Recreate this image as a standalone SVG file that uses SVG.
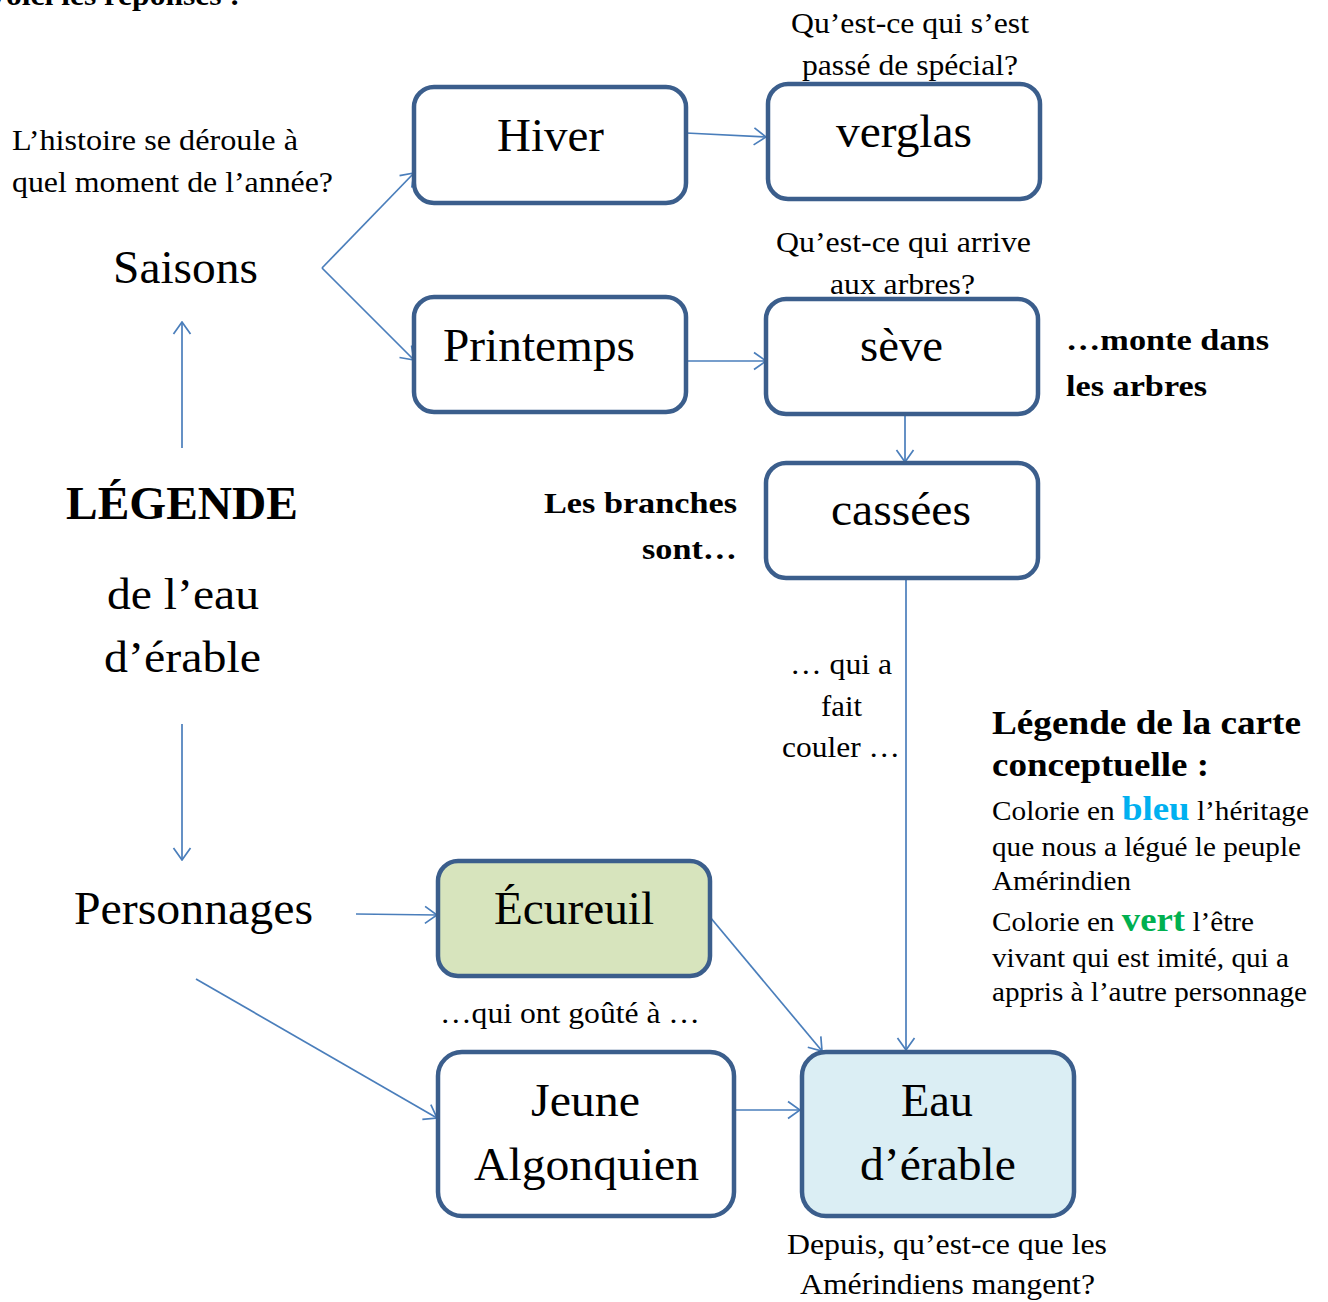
<svg xmlns="http://www.w3.org/2000/svg" width="1328" height="1302" viewBox="0 0 1328 1302">
<defs>
<marker id="arr" viewBox="0 0 14 20" refX="13" refY="10" markerWidth="14" markerHeight="20" markerUnits="userSpaceOnUse" orient="auto">
<path d="M1,1.5 L13,10 L1,18.5" fill="none" stroke="#4a7ebb" stroke-width="1.7"/>
</marker>
<style>
.box{fill:#fff;stroke:#3b5e8c;stroke-width:4.5}
.c{fill:none;stroke:#4a7ebb;stroke-width:1.7;marker-end:url(#arr)}
text{font-family:"Liberation Serif","Times New Roman",serif;fill:#000}
.big{font-size:46px}
.lbl{font-size:29px}
.b{font-weight:bold}
.leg{font-size:27px}
</style>
</defs>
<text x="-14" y="5" class="b" font-size="29" textLength="254" lengthAdjust="spacingAndGlyphs">Voici les réponses :</text>
<g id="connectors">
<line class="c" x1="686" y1="133" x2="766" y2="137"/>
<line class="c" x1="322" y1="268" x2="414" y2="173"/>
<line class="c" x1="322" y1="268" x2="414" y2="360"/>
<line class="c" x1="686" y1="361" x2="766" y2="361"/>
<line class="c" x1="905" y1="414" x2="905" y2="462"/>
<line class="c" x1="906" y1="578" x2="906" y2="1050"/>
<line class="c" x1="710" y1="917" x2="822" y2="1051"/>
<line class="c" x1="734" y1="1110" x2="800" y2="1110"/>
<line class="c" x1="356" y1="914" x2="437" y2="915"/>
<line class="c" x1="196" y1="979" x2="437" y2="1118"/>
<line class="c" x1="182" y1="448" x2="182" y2="322"/>
<line class="c" x1="182" y1="724" x2="182" y2="860"/>
</g>
<g id="hiver"><rect class="box" x="414" y="87" width="272" height="116" rx="20"/><text class="big" x="497" y="151" textLength="107" lengthAdjust="spacingAndGlyphs">Hiver</text></g>
<g id="verglas"><rect class="box" x="768" y="84" width="272" height="115" rx="20"/><text class="big" x="836" y="147" textLength="136" lengthAdjust="spacingAndGlyphs">verglas</text></g>
<g id="printemps"><rect class="box" x="414" y="297" width="272" height="115" rx="20"/><text class="big" x="443" y="361" textLength="192" lengthAdjust="spacingAndGlyphs">Printemps</text></g>
<g id="seve"><rect class="box" x="766" y="299" width="272" height="115" rx="20"/><text class="big" x="860" y="361" textLength="83" lengthAdjust="spacingAndGlyphs">sève</text></g>
<g id="cassees"><rect class="box" x="766" y="463" width="272" height="115" rx="20"/><text class="big" x="831" y="525" textLength="140" lengthAdjust="spacingAndGlyphs">cassées</text></g>
<g id="ecureuil"><rect class="box" x="438" y="861" width="272" height="115" rx="20" style="fill:#d7e4bd"/><text class="big" x="494" y="924" textLength="160" lengthAdjust="spacingAndGlyphs">Écureuil</text></g>
<g id="jeune"><rect class="box" x="438" y="1052" width="296" height="164" rx="24"/><text class="big" x="531" y="1116" textLength="109" lengthAdjust="spacingAndGlyphs">Jeune</text><text class="big" x="474" y="1180" textLength="225" lengthAdjust="spacingAndGlyphs">Algonquien</text></g>
<g id="eau"><rect class="box" x="802" y="1052" width="272" height="164" rx="24" style="fill:#dbeef4"/><text class="big" x="901" y="1116" textLength="72" lengthAdjust="spacingAndGlyphs">Eau</text><text class="big" x="860" y="1180" textLength="156" lengthAdjust="spacingAndGlyphs">d’érable</text></g>
<g id="saisons"><text class="big" x="113" y="283" textLength="145" lengthAdjust="spacingAndGlyphs">Saisons</text></g>
<g id="legende"><text class="big b" x="66" y="519" textLength="232" lengthAdjust="spacingAndGlyphs">LÉGENDE</text><text font-size="44" x="107" y="609" textLength="152" lengthAdjust="spacingAndGlyphs">de l’eau</text><text font-size="44" x="104" y="672" textLength="157" lengthAdjust="spacingAndGlyphs">d’érable</text></g>
<g id="personnages"><text class="big" x="74" y="924" textLength="239" lengthAdjust="spacingAndGlyphs">Personnages</text></g>
<g id="labels">
<text class="lbl" x="12" y="150" textLength="286" lengthAdjust="spacingAndGlyphs">L’histoire se déroule à</text>
<text class="lbl" x="12" y="192" textLength="321" lengthAdjust="spacingAndGlyphs">quel moment de l’année?</text>
<text class="lbl" x="791" y="33" textLength="238" lengthAdjust="spacingAndGlyphs">Qu’est-ce qui s’est</text>
<text class="lbl" x="802" y="75" textLength="216" lengthAdjust="spacingAndGlyphs">passé de spécial?</text>
<text class="lbl" x="776" y="252" textLength="255" lengthAdjust="spacingAndGlyphs">Qu’est-ce qui arrive</text>
<text class="lbl" x="830" y="294" textLength="145" lengthAdjust="spacingAndGlyphs">aux arbres?</text>
<text class="lbl b" x="1066" y="350" textLength="203" lengthAdjust="spacingAndGlyphs">…monte dans</text>
<text class="lbl b" x="1066" y="396" textLength="141" lengthAdjust="spacingAndGlyphs">les arbres</text>
<text class="lbl b" x="544" y="513" textLength="193" lengthAdjust="spacingAndGlyphs">Les branches</text>
<text class="lbl b" x="642" y="559" textLength="95" lengthAdjust="spacingAndGlyphs">sont…</text>
<text class="lbl" x="790" y="674" textLength="102" lengthAdjust="spacingAndGlyphs">… qui a</text>
<text class="lbl" x="821" y="716" textLength="41" lengthAdjust="spacingAndGlyphs">fait</text>
<text class="lbl" x="782" y="757" textLength="118" lengthAdjust="spacingAndGlyphs">couler …</text>
<text class="lbl" x="440" y="1023" textLength="260" lengthAdjust="spacingAndGlyphs">…qui ont goûté à …</text>
<text class="lbl" x="787" y="1254" textLength="320" lengthAdjust="spacingAndGlyphs">Depuis, qu’est-ce que les</text>
<text class="lbl" x="800" y="1294" textLength="295" lengthAdjust="spacingAndGlyphs">Amérindiens mangent?</text>
</g>
<g id="legend-box">
<text class="b" font-size="33" x="992" y="734" textLength="309" lengthAdjust="spacingAndGlyphs">Légende de la carte</text>
<text class="b" font-size="33" x="992" y="776" textLength="217" lengthAdjust="spacingAndGlyphs">conceptuelle :</text>
<text class="leg" x="992" y="820" textLength="317" lengthAdjust="spacingAndGlyphs">Colorie en <tspan class="b" font-size="34" fill="#00b0f0">bleu</tspan> l’héritage</text>
<text class="leg" x="992" y="856" textLength="309" lengthAdjust="spacingAndGlyphs">que nous a légué le peuple</text>
<text class="leg" x="992" y="890" textLength="139" lengthAdjust="spacingAndGlyphs">Amérindien</text>
<text class="leg" x="992" y="931" textLength="262" lengthAdjust="spacingAndGlyphs">Colorie en <tspan class="b" font-size="34" fill="#00b050">vert</tspan> l’être</text>
<text class="leg" x="992" y="967" textLength="297" lengthAdjust="spacingAndGlyphs">vivant qui est imité, qui a</text>
<text class="leg" x="992" y="1001" textLength="315" lengthAdjust="spacingAndGlyphs">appris à l’autre personnage</text>
</g>
</svg>
